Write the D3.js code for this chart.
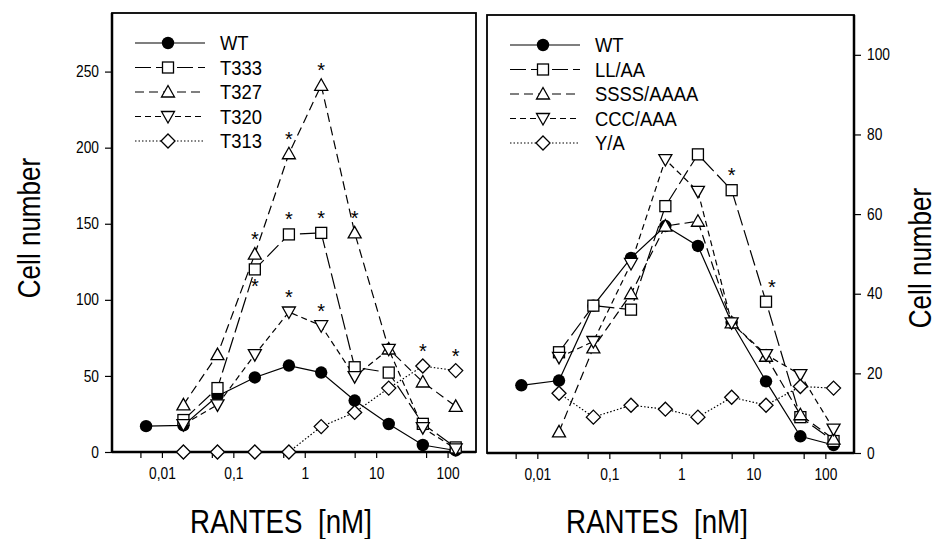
<!DOCTYPE html>
<html><head><meta charset="utf-8">
<script src="https://cdn.jsdelivr.net/npm/d3@7"></script>
<style>
html,body{margin:0;padding:0;background:#fff;}
svg{display:block;}
text{font-family:"Liberation Sans",Arial,sans-serif;fill:#000;white-space:pre;}
</style></head>
<body><svg id="c" width="939" height="539"></svg>
<script>
// ---- data ----
const doses = [0.006, 0.02, 0.06, 0.2, 0.6, 1.7, 5, 15, 45, 130];
const xTickMajor = [0.01, 0.1, 1, 10, 100];
const xTickMinor = [0.005, 0.05, 0.5, 5, 50];
const xTickLabels = ["0,01", "0,1", "1", "10", "100"];
const leftYTicks = [0, 50, 100, 150, 200, 250];
const rightYTicks = [0, 20, 40, 60, 80, 100];

const leftNames = ["WT", "T333", "T327", "T320", "T313"];
const WT_L  = [17, 17.5, 36.8, 49, 56.8, 52.2, 33.8, 18.4, 4.6, 1];
const T333  = [null, 21, 42, 120, 143, 144, 55.7, 52.2, 18.5, 3];
const T327  = [null, 31, 64, 130, 196, 241, 144, 67.7, 46, 30];
const T320  = [null, 18, 31, 64, 92, 83, 49.5, 67.5, 16, 2];
const T313  = [null, 0, 0, 0, 0, 16.7, 26, 42, 56.5, 53.5];

const rightNames = ["WT", "LL/AA", "SSSS/AAAA", "CCC/AAA", "Y/A"];
const WT_R  = [17, 18.2, 37, 49, 57, 52, 32.7, 18, 4.2, 2];
const LLAA  = [null, 25.3, 37, 36, 62, 75, 66, 38, 9, 3];
const SSSS  = [null, 5.3, 26.4, 40, 57, 58.2, 32.7, 24.3, 9.6, 3.5];
const CCC   = [null, 24, 28, 47.6, 73.7, 65.7, 32.7, 24.7, 19.7, 6];
const YA    = [null, 15, 9, 12, 11, 9, 14, 12, 16.7, 16.3];

// asterisks: [seriesIndex, doseIndex, "above"/"below"]
const leftStars = [[2,3,"above"],[1,3,"below"],[2,4,"above"],[1,4,"above"],[1,5,"above"],[2,5,"above"],[2,6,"above"],[3,4,"above"],[3,5,"above"],[4,8,"above"],[4,9,"above"]];
const rightStars = [[1,6,"above"],[1,7,"aboveright"]];

// ---- styles ----
const markers = ["circle","square","triangleUp","triangleDown","diamond"];
const dashes = [null, "16,5", "9,5", "6,4", "1.5,2"];

const svg = d3.select("#c");

function narrow(sel, factor) {
  sel.each(function() {
    const w = this.getComputedTextLength();
    d3.select(this).attr("textLength", w * factor).attr("lengthAdjust", "spacingAndGlyphs");
  });
}

function drawMarker(g, type, x, y) {
  if (type === "circle") {
    g.append("circle").attr("cx", x).attr("cy", y).attr("r", 6.2).attr("fill", "#000");
  } else if (type === "square") {
    g.append("rect").attr("x", x-5.5).attr("y", y-5.5).attr("width", 11).attr("height", 11)
      .attr("fill", "#fff").attr("stroke", "#000").attr("stroke-width", 1.3);
  } else if (type === "triangleUp") {
    g.append("path").attr("d", `M${x},${y-6.5}L${x+6.5},${y+5}L${x-6.5},${y+5}Z`)
      .attr("fill", "#fff").attr("stroke", "#000").attr("stroke-width", 1.3);
  } else if (type === "triangleDown") {
    g.append("path").attr("d", `M${x},${y+6.5}L${x+6.5},${y-5}L${x-6.5},${y-5}Z`)
      .attr("fill", "#fff").attr("stroke", "#000").attr("stroke-width", 1.3);
  } else if (type === "diamond") {
    g.append("path").attr("d", `M${x},${y-7}L${x+7},${y}L${x},${y+7}L${x-7},${y}Z`)
      .attr("fill", "#fff").attr("stroke", "#000").attr("stroke-width", 1.3);
  }
}

function panel(opts) {
  const {x0, x1, y0, y1, ymax, yTicks, yRight, series, names, stars, legX, legY} = opts;
  const x = d3.scaleLog().domain([0.002, 250]).range([x0, x1]);
  const y = d3.scaleLinear().domain([0, ymax]).range([y1, y0]);
  const g = svg.append("g");

  // frame
  g.append("rect").attr("x", x0).attr("y", y0).attr("width", x1-x0).attr("height", y1-y0)
    .attr("fill", "none").attr("stroke", "#000").attr("stroke-width", 1.8);

  // x axis
  const xa = g.append("g").attr("transform", `translate(0,${y1})`)
    .call(d3.axisBottom(x).tickValues(xTickMajor.concat(xTickMinor)).tickSize(6).tickPadding(10)
      .tickFormat(d => { const i = xTickMajor.indexOf(d); return i >= 0 ? xTickLabels[i] : ""; }));
  xa.select(".domain").attr("stroke-width", 2.5).attr("d", `M${x0},0H${x1}`);
  xa.selectAll(".tick line").attr("stroke-width", 1.2);
  xa.selectAll("text").attr("font-size", 16).attr("font-family", "Liberation Sans, Arial");
  narrow(xa.selectAll("text"), 0.86);

  // y axis
  const ya = g.append("g").attr("transform", `translate(${yRight ? x1 : x0},0)`)
    .call((yRight ? d3.axisRight(y) : d3.axisLeft(y)).tickValues(yTicks).tickSize(7).tickPadding(6));
  ya.select(".domain").attr("stroke-width", 2.5).attr("d", `M0,${y0}V${y1}`);
  ya.selectAll(".tick line").attr("stroke-width", 1.2);
  ya.selectAll("text").attr("font-size", 16).attr("font-family", "Liberation Sans, Arial");
  narrow(ya.selectAll("text"), 0.86);

  // lines
  const line = d3.line().defined(d => d[1] !== null).x(d => x(d[0])).y(d => y(d[1]));
  series.forEach((s, i) => {
    const pts = doses.map((d, j) => [d, s[j]]);
    g.append("path").datum(pts).attr("d", line).attr("fill", "none").attr("stroke", "#000")
      .attr("stroke-width", 1.2).attr("stroke-dasharray", dashes[i]);
  });
  // markers (WT first, mutants drawn on top)
  series.forEach((s, i) => {
    doses.forEach((d, j) => { if (s[j] !== null) drawMarker(g, markers[i], x(d), y(s[j])); });
  });
  // asterisks
  stars.forEach(([si, di, pos]) => {
    const px = x(doses[di]) + (pos === "aboveright" ? 6 : 0);
    const py = y(series[si][di]) + (pos === "below" ? 24 : -8);
    g.append("text").attr("x", px).attr("y", py).attr("text-anchor", "middle")
      .attr("font-size", 20).text("*");
  });

  // legend
  names.forEach((n, i) => {
    const ly = legY + i * 24.5;
    const lg = g.append("g");
    lg.append("rect").attr("x", legX - 2).attr("y", ly - 10).attr("width", 74).attr("height", 20).attr("fill", "#fff");
    lg.append("line").attr("x1", legX).attr("x2", legX + 70).attr("y1", ly).attr("y2", ly)
      .attr("stroke", "#000").attr("stroke-width", 1.2).attr("stroke-dasharray", dashes[i]);
    drawMarker(lg, markers[i], legX + 33, ly);
    const t = lg.append("text").attr("x", legX + 85).attr("y", ly).attr("dy", "0.36em")
      .attr("font-size", 20).text(n);
    narrow(t, 0.92);
  });
  return {x, y};
}

panel({x0: 112, x1: 476, y0: 13, y1: 452, ymax: 288.5, yTicks: leftYTicks, yRight: false,
  series: [WT_L, T333, T327, T320, T313], names: leftNames, stars: leftStars, legX: 135, legY: 43});
panel({x0: 487, x1: 854, y0: 15, y1: 453, ymax: 110, yTicks: rightYTicks, yRight: true,
  series: [WT_R, LLAA, SSSS, CCC, YA], names: rightNames, stars: rightStars, legX: 510, legY: 45});

// axis titles
const titles = [
  svg.append("text").attr("x", 281).attr("y", 533).attr("text-anchor", "middle").attr("font-size", 33).text("RANTES  [nM]"),
  svg.append("text").attr("x", 657).attr("y", 533).attr("text-anchor", "middle").attr("font-size", 33).text("RANTES  [nM]"),
  svg.append("text").attr("transform", "translate(40,228) rotate(-90)").attr("text-anchor", "middle").attr("font-size", 31).text("Cell number"),
  svg.append("text").attr("transform", "translate(931,258) rotate(-90)").attr("text-anchor", "middle").attr("font-size", 31).text("Cell number")
];
titles.forEach(t => narrow(t, 0.84));
</script></body></html>
